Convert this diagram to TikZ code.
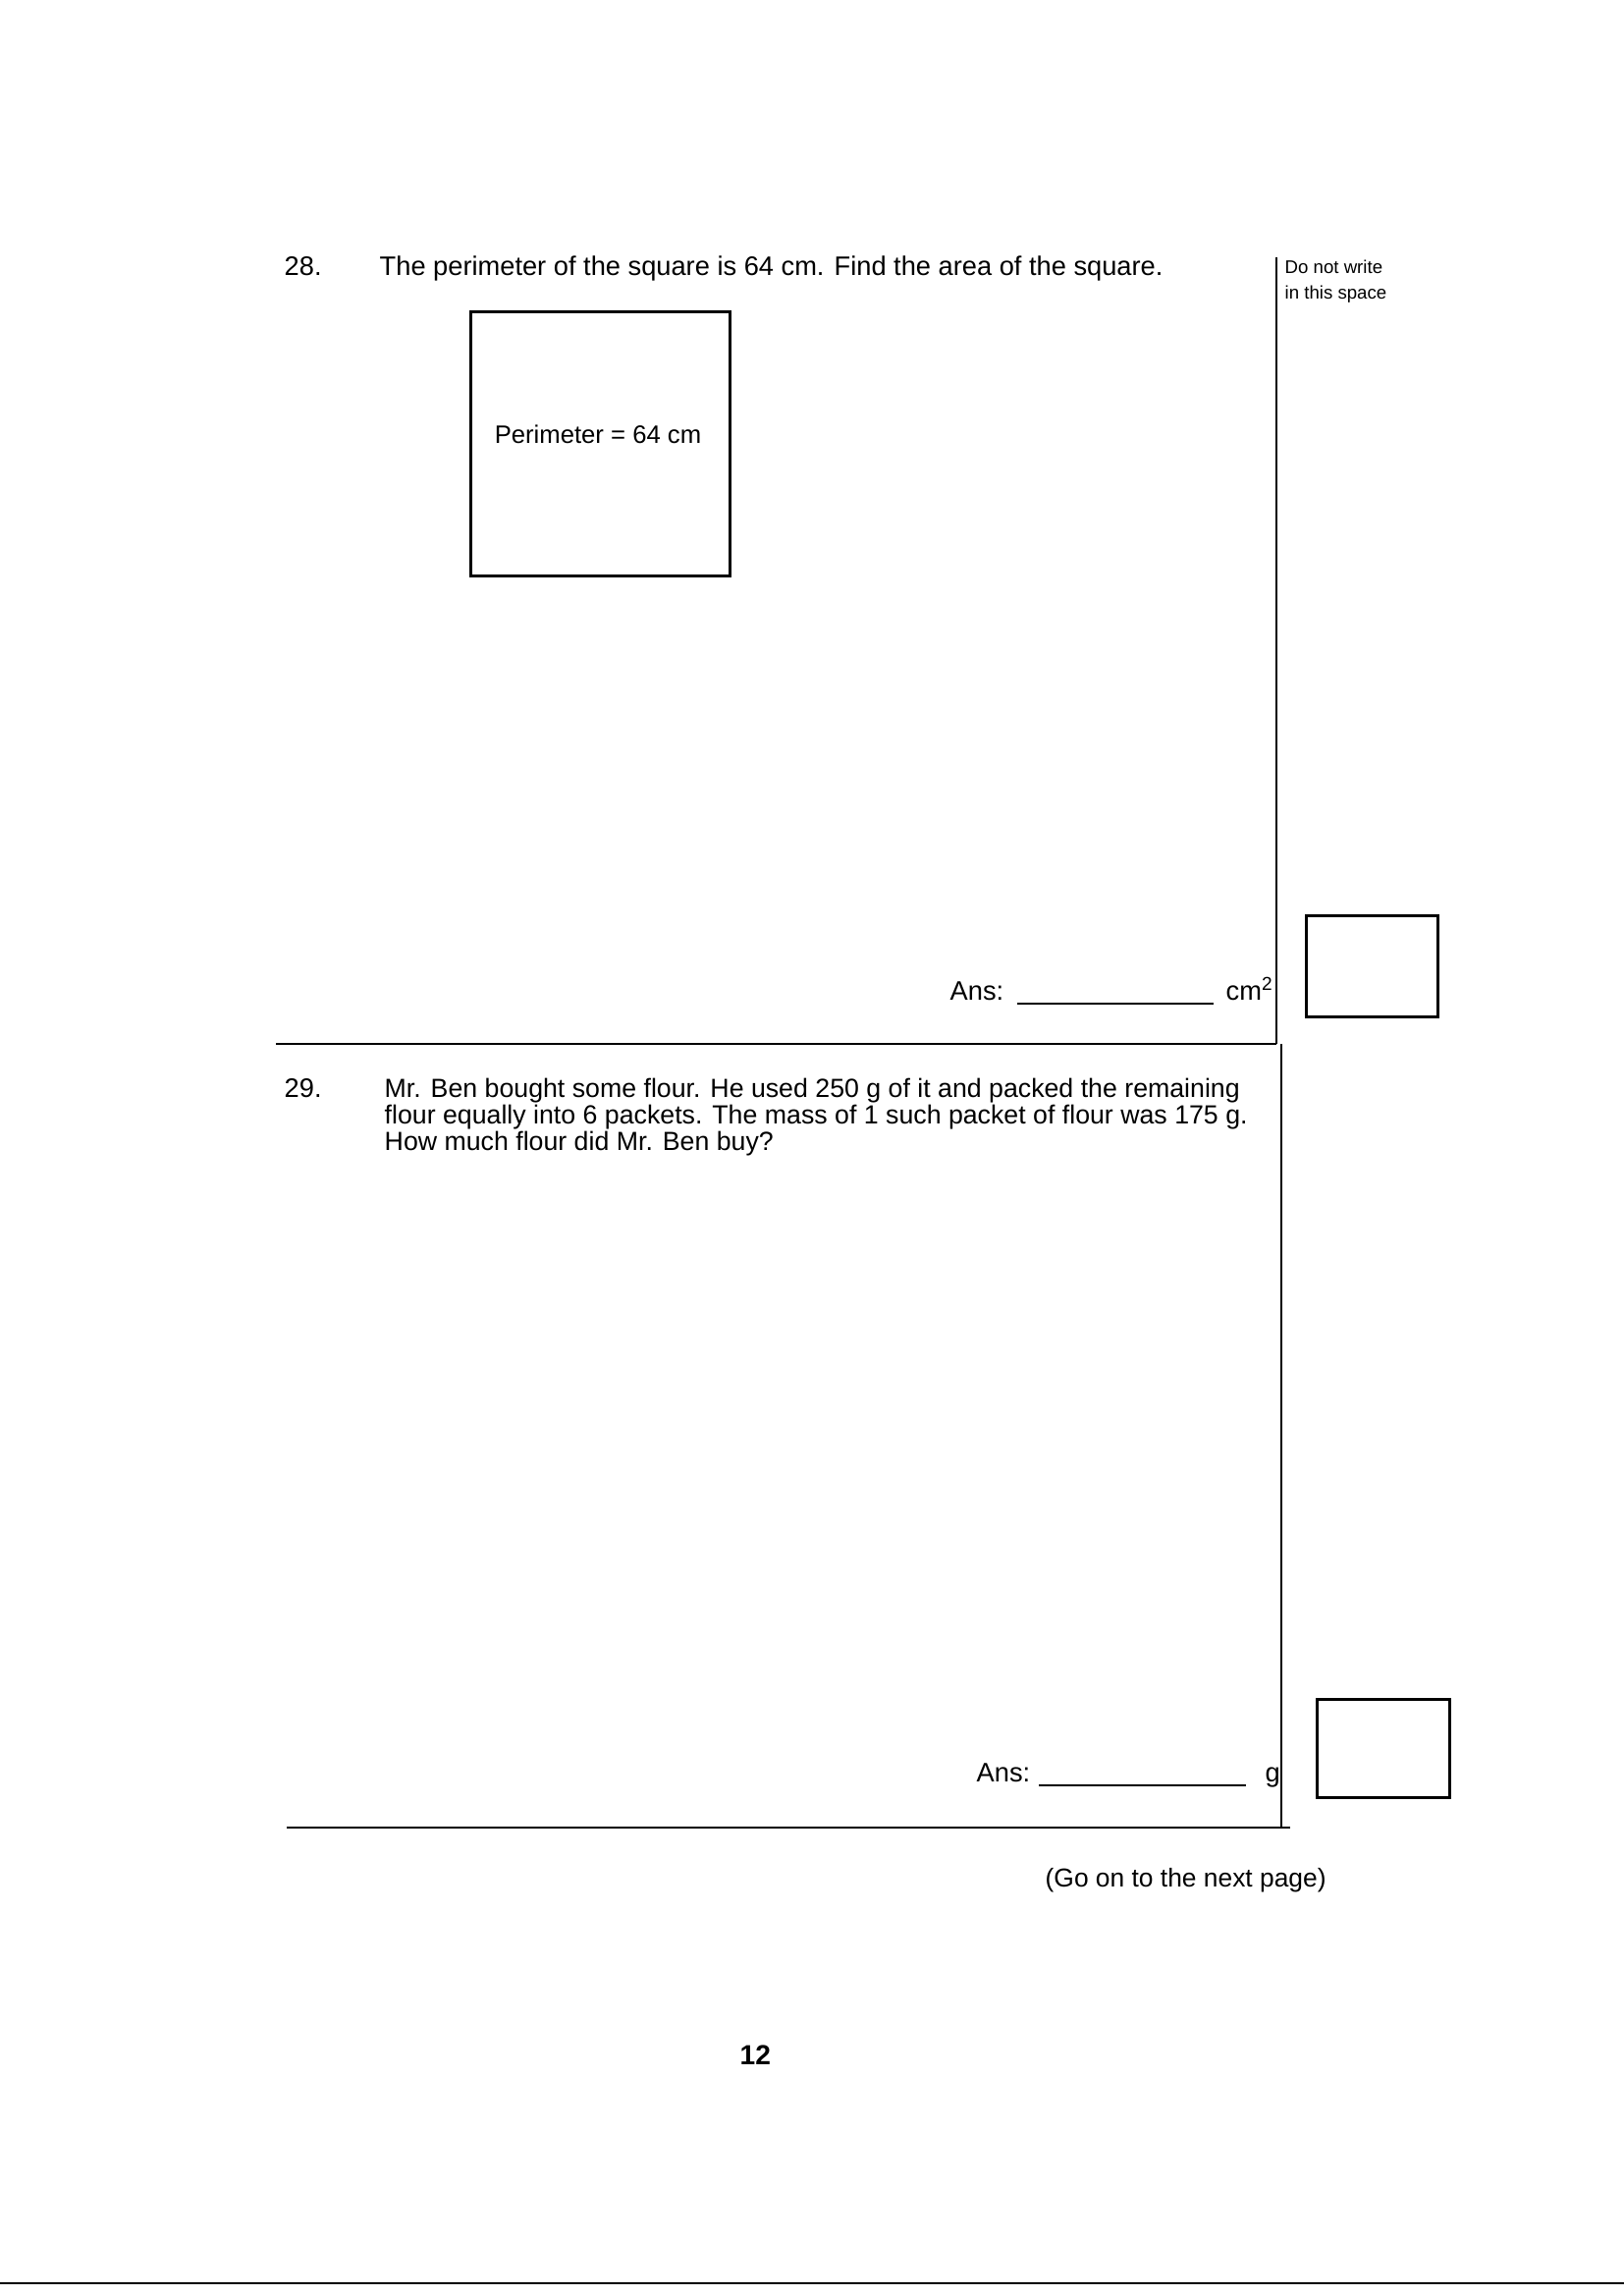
\documentclass[tikz,border=0pt]{standalone}
\usepackage{fontspec}
\setmainfont{Liberation Sans}
\begin{document}
\begin{tikzpicture}[x=0.01cm,y=-0.01cm,
  txt/.style={anchor=base west,inner sep=0,font=\fontsize{7.75}{10}\selectfont},
  ln/.style={line width=0.8pt}]
\useasboundingbox (0,0) rectangle (1654,2338);
% Q28
\node[txt] (n28) at (289,280) {28.};
\node[txt] (q28) at (386,280) {The perimeter of the square is 64 cm. Find the area of the square.};
\node[txt,font=\fontsize{5.3}{6.5}\selectfont] (dn1) at (1308,278) {Do not write};
\node[txt,font=\fontsize{5.3}{6.5}\selectfont] (dn2) at (1308,304) {in this space};
\draw[ln] (1300,262) -- (1300,1063);
\draw[ln] (1305,1063) -- (1305,1861);
\node[draw,line width=0.8pt,minimum width=2.64cm,minimum height=2.69cm,anchor=north west,inner sep=0] (sq) at (478,316) {};
\node[font=\fontsize{7.3}{9}\selectfont,inner sep=0] (per) at (609,442) {Perimeter = 64 cm};
\node[draw,line width=0.8pt,minimum width=1.34cm,minimum height=1.03cm,anchor=north west,inner sep=0] (b1) at (1329,931) {};
\node[txt] (a1) at (967,1018) {Ans:};
\coordinate (l1a) at (1036,1022); \coordinate (l1b) at (1236,1022);
\draw[line width=0.6pt] (l1a) -- (l1b);
\node[txt] (u1) at (1248,1018) {cm\textsuperscript{2}};
\draw[ln] (281,1063) -- (1300,1063);
% Q29
\node[txt] (n29) at (289,1117) {29.};
\node[txt,font=\fontsize{7.6}{10}\selectfont] (q29a) at (391,1117) {Mr. Ben bought some flour. He used 250 g of it and packed the remaining};
\node[txt,font=\fontsize{7.6}{10}\selectfont] (q29b) at (391,1144) {flour equally into 6 packets. The mass of 1 such packet of flour was 175 g.};
\node[txt,font=\fontsize{7.6}{10}\selectfont] (q29c) at (391,1171) {How much flour did Mr. Ben buy?};
\node[txt] (a2) at (994,1814) {Ans:};
\coordinate (l2a) at (1058,1818); \coordinate (l2b) at (1269,1818);
\draw[line width=0.6pt] (l2a) -- (l2b);
\node[txt] (u2) at (1288,1814) {g};
\node[draw,line width=0.8pt,minimum width=1.35cm,minimum height=1.0cm,anchor=north west,inner sep=0] (b2) at (1340,1729) {};
\draw[ln] (292,1861) -- (1314,1861);
\node[txt,font=\fontsize{7.5}{10}\selectfont] (go) at (1064,1921) {(Go on to the next page)};
\node[txt,font=\bfseries\fontsize{8}{10}\selectfont] (pg) at (753,2102) {12};
\draw[ln] (0,2325) -- (1654,2325);
\end{tikzpicture}
\end{document}
